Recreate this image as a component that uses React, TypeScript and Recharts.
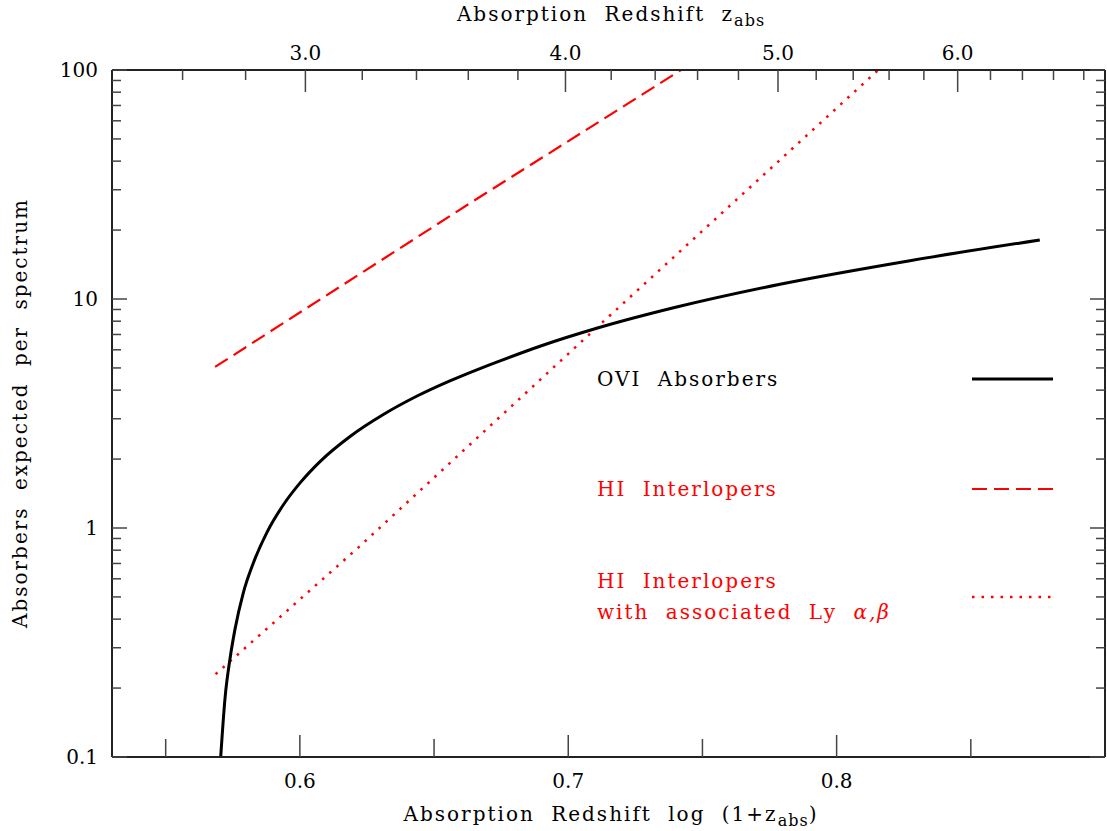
import { LineChart, Line, XAxis, YAxis, ReferenceLine } from 'recharts';

// OVI absorbers expected per spectrum: log(1+z), N
const oviLogZ = [0.5705, 0.5721, 0.574, 0.5758, 0.5789, 0.5826, 0.5876, 0.5938, 0.6, 0.6075, 0.6187, 0.6311, 0.6435, 0.6559, 0.6671, 0.6746, 0.69, 0.7106, 0.74, 0.7789, 0.8273, 0.8757];
const oviN = [0.1, 0.18, 0.27, 0.36, 0.52, 0.7, 0.95, 1.26, 1.57, 1.95, 2.51, 3.13, 3.76, 4.39, 4.97, 5.37, 6.25, 7.45, 9.2, 11.6, 14.7, 18.1];

// HI interlopers (dashed)
const hiLogZ = [0.5684, 0.6634, 0.742];
const hiN = [5.05, 26.2, 100];

// HI interlopers with associated Ly alpha, beta (dotted)
const hiLyLogZ = [0.5686, 0.6212, 0.7106, 0.8155];
const hiLyN = [0.23, 0.81, 7.5, 100];

// axis ticks
const xTicks = [0.55, 0.6, 0.65, 0.7, 0.75, 0.8, 0.85];
const xLabels = [0.6, 0.7, 0.8];
const zTicks = [2.6, 2.8, 3.0, 3.2, 3.4, 3.6, 3.8, 4.0, 4.2, 4.4, 4.6, 4.8, 5.0, 5.2, 5.4, 5.6, 5.8, 6.0, 6.2, 6.4, 6.6, 6.8];
const zLabels = [3, 4, 5, 6];
const yDecades = [0.1, 1, 10, 100];
const yMinorSteps = [2, 3, 4, 5, 6, 7, 8, 9];

const W = 1107;
const H = 831;
// axes take 1px each, so the plot box is 112..1105 x 70..757
const M = { top: 69, right: 2, bottom: 73, left: 111 };
const PLOT_L = 112;
const PLOT_T = 70;
const PLOT_R = 1105;
const PLOT_B = 757;

const FONT = '"DejaVu Serif", serif';
const TICK_COLOR = '#444';
const FRAME = { stroke: '#222', strokeWidth: 2 };

const toPoints = (xs: number[], ys: number[]) => xs.map((x, i) => ({ x, n: ys[i] }));
const oviData = toPoints(oviLogZ, oviN);
const hiData = toPoints(hiLogZ, hiN);
const hiLyData = toPoints(hiLyLogZ, hiLyN);

const yTicks = [
  ...yDecades,
  ...yDecades.slice(0, -1).flatMap((d) => yMinorSteps.map((m) => d * m)),
];
const zTickPos = zTicks.map((z) => Math.log10(1 + z));

const near = (a: number, b: number) => Math.abs(a - b) < 1e-6;

function BottomTick(props: any) {
  const { x, payload } = props;
  const v = payload.value;
  const major = xLabels.some((l) => near(l, v));
  return (
    <g>
      <line x1={x} x2={x} y1={PLOT_B} y2={PLOT_B - (major ? 22 : 18)} stroke={TICK_COLOR} strokeWidth={1.5} />
      {major && (
        <text x={x} y={PLOT_B + 24} textAnchor="middle" dominantBaseline="central" fontFamily={FONT} fontSize={20} fill="#000">
          {v.toFixed(1)}
        </text>
      )}
    </g>
  );
}

function TopTick(props: any) {
  const { x, payload } = props;
  const z = Math.pow(10, payload.value) - 1;
  const major = zLabels.some((l) => Math.abs(l - z) < 1e-4);
  return (
    <g>
      <line x1={x} x2={x} y1={PLOT_T} y2={PLOT_T + (major ? 22 : 10)} stroke={TICK_COLOR} strokeWidth={1.5} />
      {major && (
        <text x={x} y={PLOT_T - 17} textAnchor="middle" dominantBaseline="central" fontFamily={FONT} fontSize={20} fill="#000">
          {z.toFixed(1)}
        </text>
      )}
    </g>
  );
}

function LeftTick(props: any) {
  const { y, payload } = props;
  const v = payload.value;
  const major = yDecades.some((d) => near(d, v));
  const len = major ? 15 : 9;
  return (
    <g>
      <line x1={PLOT_L} x2={PLOT_L + len} y1={y} y2={y} stroke={TICK_COLOR} strokeWidth={1.5} />
      <line x1={PLOT_R} x2={PLOT_R - len} y1={y} y2={y} stroke={TICK_COLOR} strokeWidth={1.5} />
      {major && (
        <text x={PLOT_L - 14} y={y} textAnchor="end" dominantBaseline="central" fontFamily={FONT} fontSize={20} fill="#000">
          {String(v)}
        </text>
      )}
    </g>
  );
}

const textStyle: React.CSSProperties = {
  position: 'absolute',
  fontFamily: FONT,
  fontSize: 20,
  letterSpacing: 2,
  wordSpacing: 8,
  lineHeight: '24px',
  whiteSpace: 'nowrap',
};

const sub: React.CSSProperties = { fontSize: 16, verticalAlign: '-5px', letterSpacing: 1 };

function LegendRow({ top, color, dash, width }: { top: number; color: string; dash?: string; width: number }) {
  return (
    <svg style={{ position: 'absolute', left: 970, top: top - 5 }} width={86} height={10}>
      <line x1={2} x2={83} y1={5} y2={5} stroke={color} strokeWidth={width} strokeDasharray={dash} />
    </svg>
  );
}

export default function App() {
  return (
    <div style={{ position: 'absolute', left: 0, top: 0, width: W, height: H, background: '#fff' }}>
      <LineChart width={W} height={H} margin={M}>
        <XAxis
          dataKey="x"
          type="number"
          domain={[0.53, 0.9]}
          ticks={xTicks}
          allowDataOverflow
          height={1}
          tickSize={0}
          tickMargin={0}
          tickLine={false}
          tick={<BottomTick />}
          axisLine={FRAME}
          interval={0}
        />
        <XAxis
          xAxisId="top"
          orientation="top"
          dataKey="x"
          type="number"
          domain={[0.53, 0.9]}
          ticks={zTickPos}
          allowDataOverflow
          height={1}
          tickSize={0}
          tickMargin={0}
          tickLine={false}
          tick={<TopTick />}
          axisLine={FRAME}
          interval={0}
        />
        <YAxis
          type="number"
          scale="log"
          domain={[0.1, 100]}
          ticks={yTicks}
          allowDataOverflow
          width={1}
          tickSize={0}
          tickMargin={0}
          tickLine={false}
          tick={<LeftTick />}
          axisLine={FRAME}
          interval={0}
        />
        <ReferenceLine x={0.9} stroke="#222" strokeWidth={2} />
        <Line
          data={hiData}
          dataKey="n"
          type="linear"
          stroke="#ff0000"
          strokeWidth={2.2}
          strokeDasharray="15 7"
          dot={false}
          isAnimationActive={false}
        />
        <Line
          data={hiLyData}
          dataKey="n"
          type="linear"
          stroke="#ff0000"
          strokeWidth={2.5}
          strokeDasharray="2.5 7"
          dot={false}
          isAnimationActive={false}
        />
        <Line
          data={oviData}
          dataKey="n"
          type="monotone"
          stroke="#000"
          strokeWidth={3}
          dot={false}
          isAnimationActive={false}
        />
      </LineChart>

      {/* axis titles */}
      <div style={{ ...textStyle, left: 611, top: 2, transform: 'translateX(-50%)' }}>
        Absorption Redshift z<span style={sub}>abs</span>
      </div>
      <div style={{ ...textStyle, left: 611, top: 802, transform: 'translateX(-50%)' }}>
        Absorption Redshift log (1+z<span style={sub}>abs</span>)
      </div>
      <div
        style={{
          ...textStyle,
          left: 20,
          top: 413,
          transform: 'translate(-50%, -50%) rotate(-90deg)',
        }}
      >
        Absorbers expected per spectrum
      </div>

      {/* legend */}
      <div style={{ ...textStyle, left: 597, top: 367, color: '#000' }}>OVI Absorbers</div>
      <LegendRow top={379} color="#000" width={3} />
      <div style={{ ...textStyle, left: 597, top: 477, color: '#ff0000' }}>HI Interlopers</div>
      <LegendRow top={489} color="#ff0000" width={2.2} dash="15 7" />
      <div style={{ ...textStyle, left: 597, top: 569, color: '#ff0000' }}>HI Interlopers</div>
      <div style={{ ...textStyle, left: 597, top: 600, color: '#ff0000' }}>
        with associated Ly <i>α,β</i>
      </div>
      <LegendRow top={597} color="#ff0000" width={2.5} dash="2.5 7" />
    </div>
  );
}
